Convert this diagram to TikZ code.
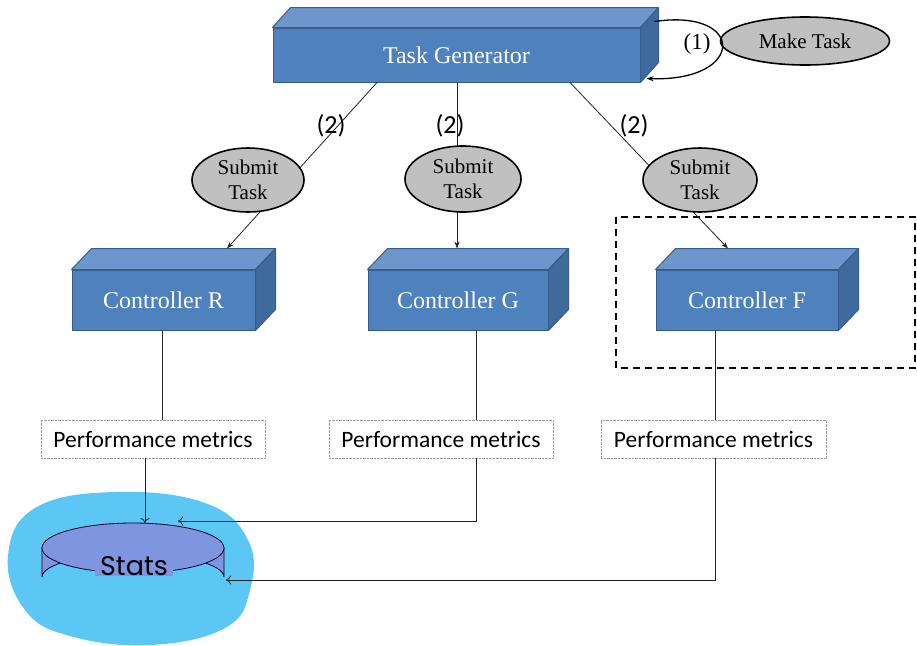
\documentclass[tikz,border=0pt]{standalone}
\usepackage{fontspec}
\setmainfont{Liberation Serif}
\newfontfamily\calib{Carlito}
\newfontfamily\comic{Poppins}
\usetikzlibrary{arrows.meta,shapes.geometric}
\definecolor{frontc}{HTML}{4F81BD}
\definecolor{topc}{HTML}{6D96CD}
\definecolor{sidec}{HTML}{3E6A9E}
\definecolor{edgec}{HTML}{385D8A}
\definecolor{ovalc}{HTML}{C0C0C0}
\definecolor{blobc}{HTML}{5CC7F5}
\definecolor{cylc}{HTML}{7F95E0}
\definecolor{linec}{HTML}{222222}
\tikzset{
  frontbox/.style={draw=edgec, line width=1pt, fill=frontc, text=white, font=\fontsize{24}{26}\selectfont, inner sep=0pt},
  topface/.style={draw=edgec, line width=1pt, fill=topc, line join=round},
  sideface/.style={draw=edgec, line width=1pt, fill=sidec, line join=round},
  oval/.style={ellipse, draw=black, line width=1.6pt, fill=ovalc, inner sep=0pt, font=\fontsize{21}{25}\selectfont, align=center},
  metric/.style={draw=gray!80, densely dotted, fill=white, font=\calib\fontsize{23.5}{25}\selectfont, inner sep=0pt},
  conn/.style={draw=linec, line width=0.8pt},
  arr/.style={conn, -{Stealth[length=7pt,width=5pt]}},
  oarr/.style={conn, -{To[length=5pt,width=9pt]}},
  numlab/.style={font=\calib\fontsize{26}{28}\selectfont, inner sep=0pt},
}
\newcommand\cubefaces[3]{%
  \path[topface] (#1.north west) -- ++(#2,-#3) -- ([shift={(#2,-#3)}]#1.north east) -- (#1.north east) -- cycle;
  \path[sideface] (#1.north east) -- ++(#2,-#3) -- ([shift={(#2,-#3)}]#1.south east) -- (#1.south east) -- cycle;}
\begin{document}
\begin{tikzpicture}[x=1pt,y=-1pt]
\useasboundingbox (0,0) rectangle (917,645);

% dashed frame
\draw[line width=1.4pt, dash pattern=on 7pt off 5pt] (616,217) rectangle (915,368);

% task generator
\node[frontbox, minimum width=367pt, minimum height=54pt] (tg) at (456.5,55) {Task Generator};
\cubefaces{tg}{18}{20}

% controllers
\node[frontbox, minimum width=183pt, minimum height=60pt] (cr) at (163.5,300) {Controller R};
\cubefaces{cr}{20}{21}
\node[frontbox, minimum width=180pt, minimum height=60pt] (cg) at (458,300) {Controller G};
\cubefaces{cg}{20}{21}
\node[frontbox, minimum width=182pt, minimum height=60pt] (cf) at (747,300) {Controller F};
\cubefaces{cf}{20}{21}

% task connectors
\coordinate (t1) at ([xshift=-79.5]tg.south);
\coordinate (t2) at ([xshift=0.5]tg.south);
\coordinate (t3) at ([xshift=113.5]tg.south);
\coordinate (c1) at ([xshift=63.5,yshift=21]cr.north);
\coordinate (c2) at ([xshift=-1,yshift=21]cg.north);
\coordinate (c3) at ([xshift=-19,yshift=21]cf.north);
\draw[arr] (t1) -- (c1);
\draw[arr] (t2) -- (c2);
\draw[arr] (t3) -- (c3);

\node[numlab] (l1) at (331,126) {(2)};
\node[numlab] (l2) at (450,126) {(2)};
\node[numlab] (l3) at (634,126) {(2)};

\node[oval, minimum width=112pt, minimum height=64pt] (s1) at (248,180) {Submit\\Task};
\node[oval, minimum width=116pt, minimum height=66pt] (s2) at (463,179) {Submit\\Task};
\node[oval, minimum width=114pt, minimum height=64pt] (s3) at (700,180) {Submit\\Task};

% make task loop
\node[oval, minimum width=169pt, minimum height=48pt] (mk) at (805,41) {Make Task};
\coordinate (lp1) at ([xshift=14,yshift=6]tg.north east);
\coordinate (lp2) at ([xshift=6,yshift=4]tg.south east);
\draw[arr, line width=1.3pt, draw=black] (lp1) .. controls (746,8) and (746,82) .. (lp2);
\node[font=\fontsize{23}{24}\selectfont, inner sep=0pt] (one) at (697,44) {(1)};

% performance metrics
\node[metric, minimum width=224pt, minimum height=38pt] (pm1) at (153,439) {Performance metrics};
\node[metric, minimum width=224pt, minimum height=38pt] (pm2) at (441,439) {Performance metrics};
\node[metric, minimum width=225pt, minimum height=38pt] (pm3) at (713.5,439) {Performance metrics};

\draw[conn] ([xshift=-1.5]cr.south) -- ([xshift=-1.5]cr.south |- pm1.north);
\draw[conn] ([xshift=18]cg.south) -- ([xshift=18]cg.south |- pm2.north);
\draw[conn] ([xshift=-32]cf.south) -- ([xshift=-32]cf.south |- pm3.north);

% stats
\fill[blobc] plot[smooth cycle, tension=0.7] coordinates {(8,556) (35,508) (115,492) (205,503) (248,540) (250,590) (225,628) (150,645) (70,636) (25,610)};
\fill[cylc, draw=black!80!blue, line width=0.8pt] (42,548) -- (42,577) arc[start angle=180, end angle=360, x radius=91, y radius=23] -- (224,548) -- cycle;
\draw[fill=cylc, draw=black!80!blue, line width=0.8pt] (133,548) ellipse[x radius=91, y radius=25];
\node[font=\comic\fontsize{27}{28}\selectfont, fill=cylc, inner xsep=5pt, inner ysep=0pt] (stats) at (134,566) {Stats};

\coordinate (st1) at (145,523);
\coordinate (st2) at (178,521);
\coordinate (st3) at (226,580);
\draw[oarr] ([xshift=-8]pm1.south) -- (st1);
\draw[oarr] ([xshift=35]pm2.south) |- (st2);
\draw[oarr] ([xshift=1.5]pm3.south) |- (st3);
\end{tikzpicture}
\end{document}
